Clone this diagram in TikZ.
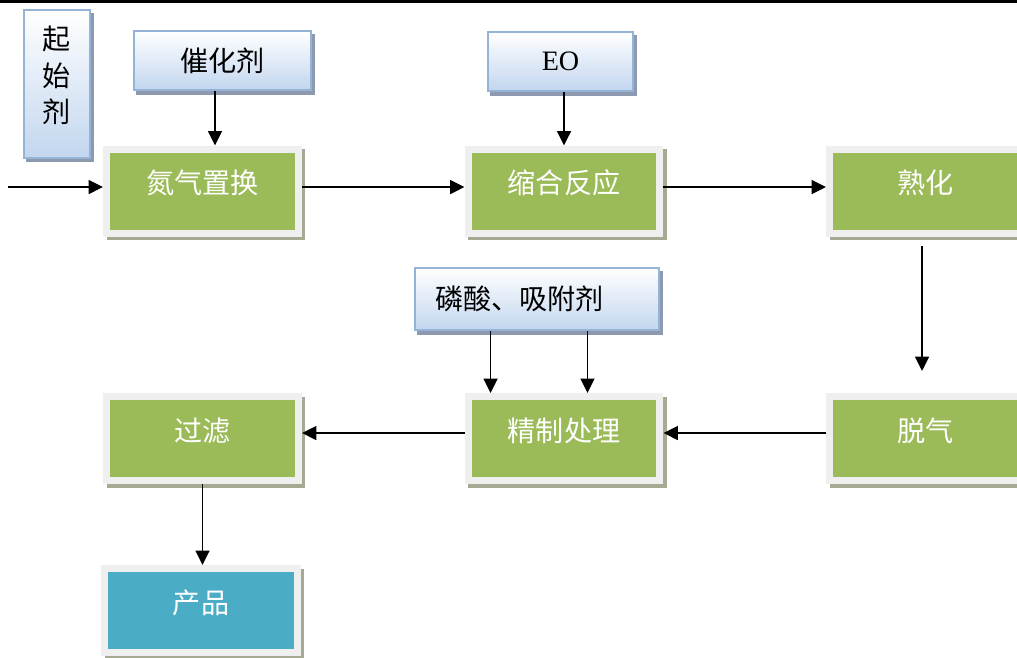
\documentclass[tikz,border=0pt]{standalone}
\usepackage{fontspec}
\setmainfont{Liberation Serif}
\newfontfamily\cjk{Noto Sans CJK SC}
\usepackage{tikz}
\usetikzlibrary{calc,shadows,arrows.meta}
\definecolor{olive}{HTML}{9BBB59}
\definecolor{framegray}{HTML}{EFEFEF}
\definecolor{greensh}{HTML}{A6AA92}
\definecolor{aqua}{HTML}{4BACC6}
\definecolor{bluebord}{HTML}{95B3D7}
\definecolor{bluebot}{HTML}{C2D6EF}
\definecolor{bluesh}{HTML}{8C99AE}
\tikzset{
	stepbox/.style={draw=framegray, fill=olive, line width=0.14cm, minimum width=3.84cm, minimum height=1.68cm,
		text=white, font=\cjk\fontsize{16}{19}\selectfont, text height=0.5cm, text depth=0.39cm, inner ysep=0pt,
		drop shadow={shadow xshift=0.07cm, shadow yshift=-0.07cm, fill=greensh, draw=greensh, line width=0.14cm, opacity=1}},
	feedbox/.style={draw=bluebord, line width=0.04cm, top color=white, bottom color=bluebot,
		font=\cjk\fontsize{16}{21}\selectfont, inner sep=0pt,
		drop shadow={shadow xshift=0.06cm, shadow yshift=-0.07cm, fill=bluesh, draw=bluesh, line width=0.04cm, opacity=1}},
	arr/.style={line width=0.035cm, -{Triangle[length=0.29cm,width=0.28cm]}}
}

\begin{document}
\begin{tikzpicture}[x=0.02cm, y=-0.02cm]
			%%%%% START %%%%%
			\useasboundingbox (0, 0) rectangle (1017, 657);
			\clip (0, 0) rectangle (1017, 657);
			
			\draw[line width=0.055cm] (0, 1.3) -- (1017, 1.3);
			
			% feeds
			\node[feedbox, minimum width=1.32cm, minimum height=2.96cm, align=center, text depth=0.39cm] (starter) at (57, 84) {起\\始\\剂};
			\node[feedbox, minimum width=3.54cm, minimum height=1.18cm] (catalyst) at (222.5, 60.5) {催化剂};
			\node[feedbox, minimum width=2.90cm, minimum height=1.18cm, font=\fontsize{16}{19}\selectfont] (eo) at (560.5, 61.5) {EO};
			\node[feedbox, minimum width=4.88cm, minimum height=1.24cm, text width=4.08cm, inner xsep=0.4cm, align=left] (phos) at (537, 299) {磷酸、吸附剂};
			
			% steps
			\node[stepbox] (nitro) at (202.5, 191) {氮气置换};
			\node[stepbox] (conden) at (564, 191) {缩合反应};
			\node[stepbox] (ripen) at (925.5, 191) {熟化};
			\node[stepbox] (degas) at (925.5, 438.5) {脱气};
			\node[stepbox] (refine) at (564, 438.5) {精制处理};
			\node[stepbox] (filter) at (202.5, 438.5) {过滤};
			\node[stepbox, fill=aqua, minimum width=3.86cm] (product) at (201, 610.5) {产品};
			
			\coordinate (in) at (8, 187);
			\draw[arr] (in) -- (in -| nitro.west);
			\draw[arr] ([xshift=-0.15cm]catalyst.south) -- ([xshift=-0.15cm]catalyst.south |- nitro.north);
			\draw[arr] (eo.south -| conden) -- (conden.north);
			\draw[arr] ([yshift=0.08cm]nitro.east) -- ([yshift=0.08cm]conden.west);
			\draw[arr] ([yshift=0.08cm]conden.east) -- ([yshift=0.08cm]ripen.west);
			\draw[arr, shorten <=0.2cm, shorten >=0.44cm] ([xshift=-0.07cm]ripen.south) -- ([xshift=-0.07cm]degas.north);
			\foreach \dx in {-0.93, 1.01}
				\draw[arr] ([xshift=\dx cm]phos.south) -- ([xshift=\dx cm]phos.south |- refine.north);
			\draw[arr] ([yshift=0.11cm]degas.west) -- ([yshift=0.11cm]refine.east);
			\draw[arr] ([yshift=0.11cm]refine.west) -- ([yshift=0.11cm]filter.east);
			\draw[arr] (filter.south) -- (filter.south |- product.north);
			
			%%%%% END %%%%%
\end{tikzpicture}
\end{document}
